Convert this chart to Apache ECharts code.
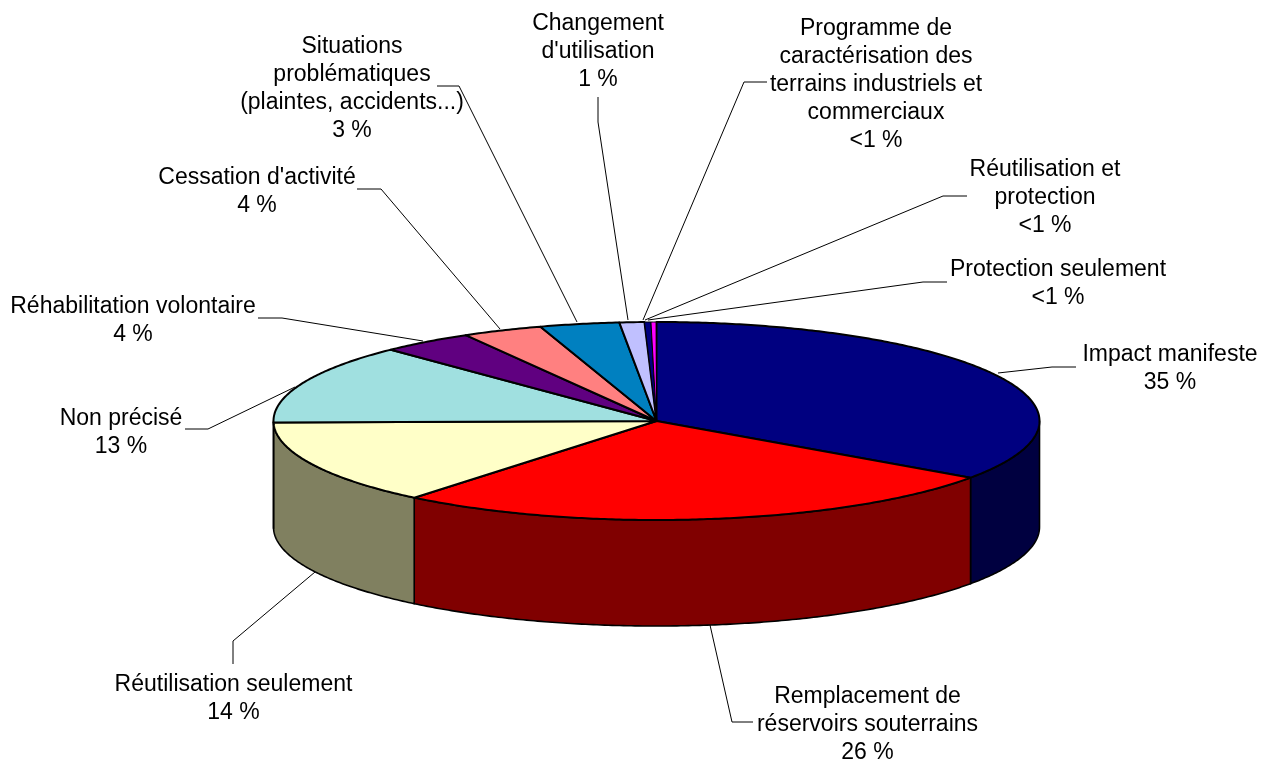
<!DOCTYPE html>
<html>
<head>
<meta charset="utf-8">
<style>html,body{margin:0;padding:0;background:#fff}#c{width:1268px;height:759px}</style>
<script src="https://cdn.jsdelivr.net/npm/echarts@6/dist/echarts.min.js"></script>
</head>
<body>
<div id="c"></div>
<script>
// Data, clockwise from the top of the pie
const names = ["Impact manifeste","Remplacement de réservoirs souterrains","Réutilisation seulement","Non précisé","Réhabilitation volontaire","Cessation d'activité","Situations problématiques (plaintes, accidents...)","Changement d'utilisation","Programme de caractérisation des terrains industriels et commerciaux","Réutilisation et protection","Protection seulement"];
const values = [34.7, 26.2, 13.85, 13.05, 3.9, 3.4, 3.35, 1.05, 0.27, 0.22, 0.01];
const percentLabels = ["35 %","26 %","14 %","13 %","4 %","4 %","3 %","1 %","<1 %","<1 %","<1 %"];
const topColors = ["#000080","#FF0000","#FFFFC8","#A0E0E0","#600080","#FF8080","#0080C0","#C0C0FF","#000080","#FF00FF","#FFFF00"];
const sideColors = ["#000040","#800000","#808060","#507070","#300040","#804040","#004060","#606080","#000040","#800080","#808000"];

// Layout of the tilted pie
const CX = 656.5, CY = 421, RX = 383, RY = 99, DEPTH = 106;
// Label blocks: centre x, first line middle y, text lines
const labelLayout = [
  {x:1170,y:355,lines:["Impact manifeste"]},
  {x:867.5,y:697,lines:["Remplacement de","réservoirs souterrains"]},
  {x:233.5,y:685,lines:["Réutilisation seulement"]},
  {x:121,y:419,lines:["Non précisé"]},
  {x:133,y:307,lines:["Réhabilitation volontaire"]},
  {x:257,y:178,lines:["Cessation d'activité"]},
  {x:352,y:47,lines:["Situations","problématiques","(plaintes, accidents...)"]},
  {x:598,y:24,lines:["Changement","d'utilisation"]},
  {x:876,y:29,lines:["Programme de","caractérisation des","terrains industriels et","commerciaux"]},
  {x:1045,y:170,lines:["Réutilisation et","protection"]},
  {x:1058,y:270,lines:["Protection seulement"]}
];
const leaders = [
  [[998,373],[1052,367],[1076,367]],
  [[710,625],[732,722],[753,722]],
  [[315,572],[233,641],[233,664]],
  [[295,387],[208,429],[185,429]],
  [[423,341],[282,318],[258,318]],
  [[500,329],[381,189],[357,189]],
  [[577,322],[459,86],[437,86]],
  [[628,320],[598,122],[598,97]],
  [[643,320],[744,82],[767,82]],
  [[645,320],[943,196],[967,196]],
  [[648,320],[923,282],[947,282]]
];
const FONT_SIZE = 23, LINE_H = 28;

const total = values.reduce((a,b)=>a+b,0);
const startAngles = [];
values.reduce((acc,v,i)=>{startAngles[i]=acc;return acc+v/total*2*Math.PI;},0);

function rim(t,dy){return [CX+RX*Math.sin(t),CY-RY*Math.cos(t)+(dy||0)];}
function arc(a,b,dy){
  const n=Math.max(2,Math.ceil(Math.abs(b-a)/0.01)),p=[];
  for(let i=0;i<=n;i++)p.push(rim(a+(b-a)*i/n,dy));
  return p;
}
function renderSlice(params,api){
  const i=params.dataIndex, a=startAngles[i], b=a+api.value(0)/total*2*Math.PI;
  const children=[];
  const sa=Math.max(a,Math.PI/2), sb=Math.min(b,Math.PI*1.5);
  if(sb>sa){
    children.push({type:'polygon',z2:1,shape:{points:arc(sa,sb,0).concat(arc(sb,sa,DEPTH))},
      style:{fill:sideColors[i],stroke:'#000',lineWidth:1.6,lineJoin:'round'}});
  }
  children.push({type:'polygon',z2:2,shape:{points:[[CX,CY]].concat(arc(a,b,0))},
    style:{fill:topColors[i],stroke:'#000',lineWidth:i>=8?1:2,lineJoin:'round'}});
  return {type:'group',children};
}
function renderLabel(params,api){
  const i=params.dataIndex,l=labelLayout[i],children=[];
  children.push({type:'polyline',shape:{points:leaders[i]},style:{fill:null,stroke:'#000',lineWidth:1}});
  l.lines.concat([percentLabels[i]]).forEach((t,k)=>{
    children.push({type:'text',style:{text:t,x:l.x,y:l.y+k*LINE_H,textAlign:'center',textVerticalAlign:'middle',
      fill:'#000',font:FONT_SIZE+'px "Liberation Sans", Arial, sans-serif'}});
  });
  return {type:'group',children};
}
const chart=echarts.init(document.getElementById('c'),null,{renderer:'canvas'});
chart.setOption({
  animation:false,
  backgroundColor:'#fff',
  series:[
    {type:'custom',coordinateSystem:'none',renderItem:renderSlice,silent:true,z:2,
     data:values.map((v,i)=>({name:names[i],value:[v]}))},
    {type:'custom',coordinateSystem:'none',renderItem:renderLabel,silent:true,z:1,
     data:values.map((v,i)=>({name:names[i],value:[v]}))}
  ]
});
</script>
</body>
</html>
